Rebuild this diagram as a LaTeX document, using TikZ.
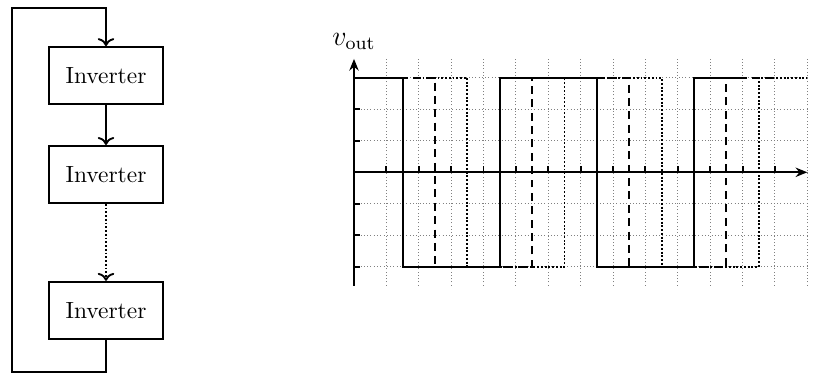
\documentclass[tikz,border=0pt]{standalone}
\usepackage{amsmath}
\usetikzlibrary{positioning,arrows.meta}
\begin{document}
\begin{tikzpicture}[x=1cm,y=1cm,thick,
  inv/.style={draw,minimum width=1.71cm,minimum height=.855cm,inner sep=0pt},
  gridline/.style={gray,thin,densely dotted},
  wavedash/.style={dash pattern=on 3.4pt off 2.3pt},
  wavedot/.style={dash pattern=on .8pt off .8pt},
  axis/.style={-{Stealth[length=5pt,width=4pt]}}]
\useasboundingbox(0,0)rectangle(12.3,5.61);
\node[inv](inv1)at(1.59,4.4775){Inverter};
\node[inv,below=.6cm of inv1](inv2){Inverter};
\node[inv,below=1.155cm of inv2](inv3){Inverter};
\coordinate(lb)at(.18,.03);\coordinate(lt)at(.18,5.49);
\draw[->](inv1)--(inv2);
\draw[->,wavedot](inv2)--(inv3);
\draw[->](inv3.south)|-(lb)--(lt)-|(inv1.north);
\begin{scope}[shift={(5.31,3.0255)},x=.4857cm,y=.4725cm]
\foreach \x in {1,...,14}\draw[gridline](\x,-3.6)--(\x,3.6);
\foreach \y in {-3,...,3}\draw[gridline](0,\y)--(14,\y);
\foreach \x in {1,...,13}\draw(\x,0)--(\x,.2);
\foreach \y in {-3,-2,-1,1,2,3}\draw(0,\y)--(.2,\y);
\draw[axis](0,0)--(14,0);
\draw[axis](0,-3.6)--(0,3.6)node[above](vlab){\large$v_{\text{out}}$};
\foreach \d/\sty in {0/solid,1/wavedash,2/wavedot}
\draw[\sty](\d,3)--++(1.5,0)--++(0,-6)--++(3,0)--++(0,6)--++(3,0)--++(0,-6)--++(3,0)--++(0,6)--++(1.5,0);
\end{scope}
\end{tikzpicture}
\end{document}
